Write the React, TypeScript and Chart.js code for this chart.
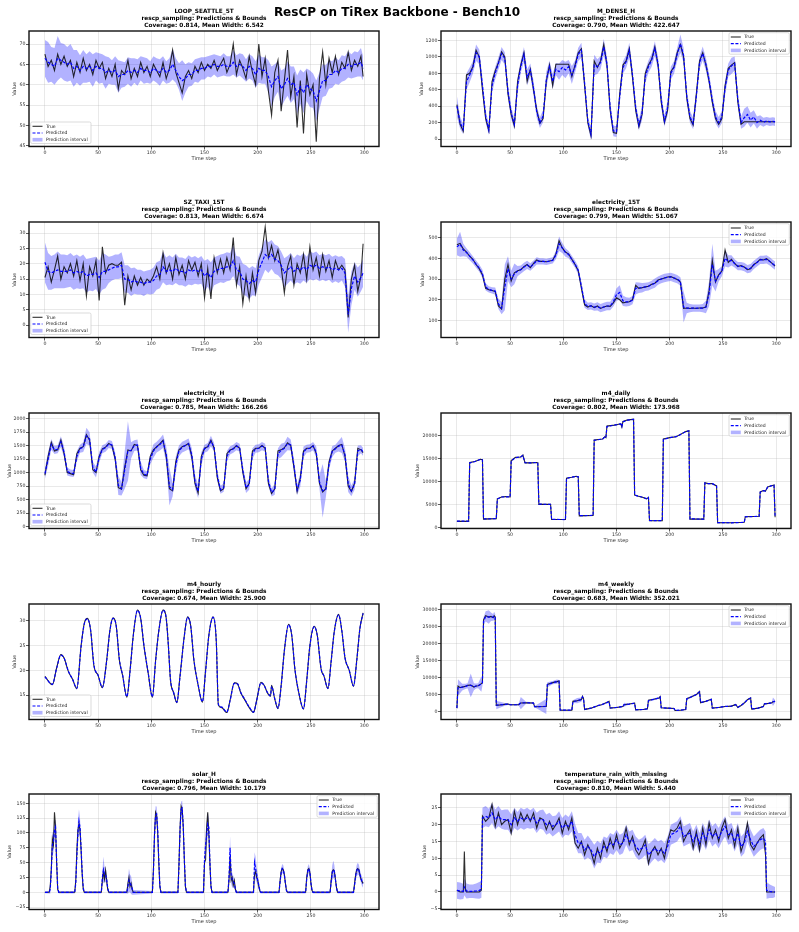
import { useEffect, useRef } from "react";
import { Chart, registerables } from "chart.js";

Chart.register(...registerables);

const FONT = "'DejaVu Sans', 'Liberation Sans', sans-serif";
const SUPTITLE = "ResCP on TiRex Backbone - Bench10";
const SUBTITLE = "rescp_sampling: Predictions & Bounds";
const X_TICKS = [0, 50, 100, 150, 200, 250, 300];
const X_MIN = -14.95;
const X_MAX = 313.95;

// Every third time step, plus the final one.
const STEP3 = Array.from({ length: 100 }, (_, i) => i * 3).concat([299]);

// ---------------- LOOP_SEATTLE_5T ----------------
const LOOP_TRUE = [
  67.5, 64.5, 66, 63.5, 67.5, 65, 67, 64.5, 66, 62,
  65.5, 63, 66.5, 63.5, 65, 62.5, 66, 64, 65.5, 61.5,
  64, 62, 65, 59, 63.5, 62.5, 66, 61.5, 64, 62,
  65.5, 63, 64.5, 62, 65, 63.5, 62, 65.5, 61.5, 64,
  68.5, 63, 60.5, 58, 62, 63.5, 61.5, 64.5, 63, 65.5,
  63.5, 65, 64, 66, 63.5, 65, 66.5, 63, 65, 70,
  62.5, 66, 64, 61.5, 67, 63, 60, 70, 62, 66.5,
  58.5, 52.5, 63, 66, 53.5, 61, 68.5, 57, 62, 49.5,
  61, 48, 62.5, 57.5, 60, 46, 61.5, 68, 60, 66.5,
  63, 67, 62.5, 65.5, 64, 68, 63.5, 66, 64.5, 67,
  62,
];
const LOOP_PRED = [
  66.5, 65.5, 65, 64.5, 66.5, 66, 65.5, 65, 65.5, 64,
  64.5, 63.5, 64.5, 64, 64.5, 63.5, 64.5, 64, 64, 63,
  63.5, 63, 63.5, 62, 62.5, 62.5, 63.5, 63, 63.5, 63,
  64, 63.5, 63.5, 63, 64, 63.5, 63, 64, 63, 63.5,
  65, 63.5, 62, 61, 61.5, 62.5, 62.5, 63.5, 63.5, 64,
  64, 64.5, 64.5, 65, 64.5, 64.5, 65, 64.5, 64.5, 65.5,
  64.5, 65, 64.5, 63.5, 64.5, 64, 62.5, 64, 63.5, 63.5,
  62, 59.5, 61, 62, 59, 60, 61.5, 60, 60.5, 57.5,
  59.5, 58, 60, 59, 58.5, 56, 58.5, 61, 61, 62.5,
  62.5, 63.5, 63, 64, 64, 65, 64.5, 65, 65, 65.5,
  64,
];
const LOOP_WIDTH = [
  9, 10, 8.5, 9, 11, 8.5, 9, 8.5, 9, 9,
  8, 7.5, 8, 7, 7.5, 8, 7, 7.5, 7, 8,
  6.5, 6, 7, 8, 6.5, 6, 6.5, 7, 6, 6.5,
  6, 6.5, 6, 5.5, 6, 6, 6.5, 6, 5.5, 6,
  7.5, 6, 6.5, 10, 7, 6, 5.5, 5.5, 6, 5.5,
  5.5, 5, 5.5, 5, 5.5, 5, 5.5, 5, 5, 6,
  5.5, 5.5, 6, 5.5, 6, 6, 6.5, 7, 6.5, 6.5,
  8, 10, 8, 7.5, 9, 8, 8.5, 9, 8, 9.5,
  8.5, 10, 8, 9, 8.5, 10, 9, 8, 7.5, 7,
  6.5, 6.5, 6, 6.5, 6, 6.5, 6, 6.5, 6, 7,
  6,
];

// ---------------- M_DENSE_H ----------------
const MDENSE_TRUE = [
  420, 180, 95, 780, 800, 880, 1080, 1000, 600, 250,
  100, 700, 830, 930, 1060, 1000, 550, 300, 160, 700,
  900, 1050, 700, 850, 600, 350, 190, 250, 700, 900,
  650, 910, 910, 910, 910, 910, 760, 900, 1050, 1100,
  650, 200, 40, 950, 870, 950, 1150, 900, 350, 80,
  70, 550, 900, 950, 1100, 750, 350, 150, 300, 800,
  900, 970, 1120, 900, 450, 200, 350, 820, 880, 1050,
  1150, 1000, 500, 250, 170, 550, 950, 1050, 900, 700,
  450, 250, 180, 250, 650, 860, 900, 930, 450, 180,
  210, 210, 210, 210, 210, 210, 210, 210, 210, 210,
  210,
];
const MDENSE_PRED = [
  400, 200, 120, 700, 780, 870, 1050, 1000, 650, 280,
  110, 650, 800, 920, 1040, 980, 580, 320, 180, 650,
  880, 1030, 750, 840, 620, 330, 200, 280, 720, 880,
  700, 850, 820, 870, 840, 880, 780, 880, 1030, 1080,
  680, 220, 60, 900, 880, 930, 1120, 920, 380, 100,
  90, 520, 870, 940, 1080, 780, 380, 170, 320, 760,
  880, 960, 1100, 920, 480, 220, 380, 800, 870, 1030,
  1160, 1020, 520, 270, 190, 520, 930, 1040, 910, 720,
  470, 270, 200, 270, 620, 840, 890, 920, 480, 200,
  260, 300, 230, 270, 200, 230, 205, 220, 210, 215,
  210,
];
const MDENSE_WIDTH = [
  250, 150, 120, 200, 180, 150, 200, 180, 200, 150,
  120, 180, 150, 150, 160, 150, 180, 150, 130, 200,
  150, 180, 200, 160, 180, 150, 130, 150, 200, 150,
  180, 150, 200, 180, 200, 160, 220, 150, 160, 180,
  180, 120, 150, 250, 180, 160, 200, 160, 180, 130,
  130, 180, 150, 160, 180, 160, 150, 130, 180, 160,
  150, 160, 180, 160, 180, 140, 180, 160, 150, 160,
  220, 180, 180, 150, 140, 180, 160, 170, 160, 150,
  160, 150, 140, 150, 180, 160, 200, 170, 180, 150,
  220, 200, 180, 160, 150, 120, 110, 100, 100, 100,
  100,
];

// ---------------- SZ_TAXI_15T ----------------
const TAXI_TRUE = [
  15.5, 19, 14, 18, 22.5, 15, 19, 17, 20, 16,
  21, 14.5, 20, 9.5, 19, 16, 21, 8, 25.5, 17,
  19.5, 20, 19.5, 19.5, 20.5, 6.5, 16, 11.5, 16, 13,
  15.5, 13, 15, 14, 16, 19, 15, 23.5, 17, 20,
  15, 22, 16.5, 19.5, 15, 21, 18, 20.5, 16, 20,
  9, 18.5, 8.5, 22, 17, 21.5, 17, 22, 18, 28.5,
  13, 19, 7, 16, 8.5, 17, 10.5, 21, 24, 32,
  22, 26, 21, 24.5, 19, 10.5, 19, 22.5, 13, 20,
  17, 23, 15, 25.5, 18, 22, 16, 23, 17.5, 21,
  15.5, 21, 18, 19.5, 18, 2.5, 15, 19.5, 11, 16,
  26.5,
];
const TAXI_PRED = [
  20.5, 17.5, 17, 17.5, 18, 17.5, 17.5, 17.5, 18, 17,
  17.5, 17, 17.5, 16, 16.5, 16.5, 17, 15.5, 17.5, 17.5,
  18, 18.5, 19, 19, 19.5, 15, 15, 14, 14.5, 14,
  14, 13.5, 14, 14, 14.5, 16, 16.5, 19, 17.5, 18,
  17.5, 18.5, 17.5, 17.5, 17, 18, 17.5, 18, 17.5, 18,
  16, 17, 15.5, 17.5, 18, 18.5, 18.5, 19, 19, 21,
  18, 17.5, 15, 14.5, 13.5, 14.5, 14, 18, 20.5, 23,
  22, 23, 21.5, 21, 19.5, 17, 18, 19, 17.5, 18.5,
  18, 19, 18, 19.5, 19, 19.5, 18.5, 19, 18.5, 19,
  18, 18.5, 18, 18.5, 17, 3.5, 12, 16, 14, 15.5,
  17,
];
const TAXI_WIDTH = [
  13, 12, 11, 11, 12, 11, 11, 10.5, 11, 11,
  11, 10.5, 11, 11, 10.5, 11, 10.5, 11, 12, 11,
  8.5, 8, 8, 8, 8.5, 9, 9, 9, 8.5, 8,
  8, 8, 7.5, 8, 8.5, 9, 9, 10, 9, 9.5,
  9, 9.5, 9, 9, 9, 9.5, 9, 9, 8.5, 9,
  10, 9, 10, 9, 9, 9, 9.5, 9.5, 9, 10,
  9, 9.5, 10, 10, 10, 9.5, 9, 9.5, 10, 10,
  10, 9.5, 9.5, 9.5, 9, 9.5, 9, 9, 8.5, 9,
  9, 9, 8.5, 9, 9, 9, 8.5, 8.5, 8.5, 8.5,
  8.5, 8.5, 8.5, 8, 9, 12, 11, 9, 9.5, 9,
  9,
];

// ---------------- electricity_15T ----------------
const ELEC15_TRUE = [
  465, 472, 445, 430, 410, 395, 370, 350, 320, 255,
  248, 245, 240, 170, 155, 300, 370, 290, 330, 340,
  345, 360, 370, 355, 375, 392, 385, 385, 383, 387,
  390, 420, 485, 450, 430, 420, 395, 370, 340, 255,
  175, 165, 172, 162, 170, 158, 165, 170, 168, 185,
  210, 200, 185, 188, 190, 200, 270, 255, 258, 262,
  265, 275, 280, 295, 300, 305, 310, 312, 305, 298,
  285, 158, 160, 158, 160, 158, 160, 160, 165, 245,
  390, 285, 320, 340, 440, 380, 395, 375, 360, 365,
  358, 345, 350, 370, 380, 395, 392, 398, 385, 372,
  362,
];
const ELEC15_PRED = [
  455, 468, 440, 428, 410, 392, 372, 352, 325, 262,
  250, 245, 242, 180, 160, 260, 350, 300, 325, 338,
  345, 358, 368, 358, 372, 388, 385, 385, 383, 386,
  390, 415, 470, 450, 428, 418, 395, 372, 342, 265,
  182, 168, 170, 165, 168, 160, 165, 170, 170, 190,
  225, 235, 195, 190, 190, 198, 255, 258, 258, 262,
  265, 272, 280, 292, 300, 305, 308, 310, 305, 300,
  288, 165, 160, 160, 160, 160, 160, 160, 165, 230,
  370, 290, 318, 338, 400, 385, 390, 375, 362, 362,
  358, 348, 352, 368, 380, 392, 392, 395, 385, 372,
  365,
];
const ELEC15_WIDTH = [
  80, 120, 60, 40, 40, 35, 35, 35, 40, 35,
  30, 30, 35, 50, 60, 220, 120, 80, 100, 50,
  40, 40, 40, 35, 35, 35, 30, 30, 30, 30,
  30, 40, 70, 50, 40, 35, 35, 35, 40, 40,
  40, 35, 35, 35, 40, 40, 40, 40, 40, 45,
  60, 70, 50, 45, 40, 40, 60, 50, 45, 40,
  40, 40, 45, 40, 40, 40, 40, 40, 40, 40,
  40, 150, 50, 40, 35, 35, 35, 40, 60, 120,
  200, 100, 60, 50, 80, 60, 50, 40, 40, 40,
  40, 40, 40, 40, 40, 40, 40, 40, 40, 40,
  40,
];

// ---------------- electricity_H ----------------
const ELECH_TRUE = [
  950, 1300, 1560, 1400, 1420, 1600, 1350, 1000, 980, 960,
  1350, 1450, 1480, 1700, 1600, 1050, 1000, 1300, 1440, 1470,
  1540, 1500, 1250, 720, 690, 1100, 1420, 1400, 1520, 1500,
  1050, 950, 940, 1300, 1420, 1480, 1530, 1600, 1300, 700,
  660, 1200, 1420, 1480, 1500, 1540, 1300, 800, 620, 1300,
  1450, 1480, 1600, 1450, 900, 660, 700, 1350, 1420, 1440,
  1500, 1450, 1000, 700, 800, 1400, 1450, 1450, 1500, 1450,
  800, 610, 700, 1400, 1420, 1460, 1550, 1500, 1100, 650,
  900, 1400, 1450, 1450, 1500, 1350, 800, 640, 700, 1200,
  1400, 1450, 1500, 1520, 1300, 750, 650, 800, 1450, 1420,
  1370,
];
const ELECH_PRED = [
  980, 1250, 1520, 1420, 1430, 1570, 1380, 1020, 990, 980,
  1300, 1440, 1470, 1680, 1620, 1100, 1010, 1280, 1430, 1460,
  1530, 1510, 1280, 760, 700, 1050, 1400, 1410, 1500, 1510,
  1080, 970, 950, 1250, 1400, 1470, 1520, 1580, 1330, 740,
  680, 1150, 1400, 1470, 1500, 1530, 1330, 840, 650, 1250,
  1440, 1470, 1580, 1470, 940, 680, 720, 1300, 1410, 1440,
  1490, 1460, 1040, 720, 780, 1350, 1440, 1450, 1490, 1460,
  840, 630, 690, 1350, 1410, 1450, 1540, 1510, 1130, 680,
  860, 1380, 1440, 1450, 1490, 1380, 830, 660, 690, 1150,
  1390, 1440, 1490, 1510, 1330, 790, 660, 780, 1400, 1430,
  1380,
];
const ELECH_WIDTH = [
  200, 250, 200, 150, 150, 200, 200, 150, 130, 130,
  200, 150, 180, 300, 250, 200, 200, 200, 150, 150,
  150, 150, 200, 350, 250, 700, 1100, 300, 200, 200,
  250, 150, 150, 200, 250, 200, 220, 250, 300, 700,
  250, 300, 200, 200, 200, 200, 250, 250, 250, 250,
  150, 150, 200, 150, 200, 150, 150, 200, 150, 150,
  150, 150, 200, 200, 200, 200, 150, 150, 150, 150,
  200, 150, 200, 200, 250, 200, 250, 200, 250, 200,
  250, 200, 150, 150, 150, 200, 250, 1000, 300, 200,
  200, 150, 200, 300, 250, 300, 200, 200, 200, 150,
  150,
];

// ---------------- m4_daily ----------------
const DAILY_STEPS = [
  0, 11, 12, 17, 22, 24, 25, 37, 38, 42,
  46, 50, 51, 55, 60, 62, 64, 70, 75, 76,
  77, 88, 89, 102, 103, 108, 112, 114, 115, 128,
  129, 137, 139, 140, 141, 148, 152, 154, 155, 156,
  160, 166, 167, 170, 175, 178, 180, 181, 193, 194,
  200, 206, 210, 215, 218, 219, 232, 233, 236, 240,
  244, 245, 258, 270, 271, 284, 285, 288, 290, 292,
  295, 298, 299,
];
const DAILY_TRUE = [
  1300, 1300, 14100, 14300, 14800, 14700, 1800, 1900, 6200, 6600,
  6700, 6600, 14500, 15200, 15300, 15700, 14000, 14000, 14100, 14000,
  5000, 5000, 1700, 1700, 10700, 10900, 11100, 11000, 2500, 2600,
  19000, 19200, 19700, 19500, 22000, 22200, 22400, 22500, 21800, 23000,
  23300, 23500, 7000, 6800, 6500, 6200, 6500, 1450, 1450, 19200,
  19500, 19700, 20200, 20800, 21000, 1800, 1800, 9700, 9500, 9500,
  9000, 1000, 1000, 1100, 2300, 2400, 7700, 8000, 7900, 8800,
  9000, 9200, 2200,
];
const DAILY_PRED = [
  1350, 1350, 14000, 14300, 14750, 14700, 1850, 1900, 6150, 6600,
  6650, 6600, 14400, 15150, 15300, 15600, 14050, 14000, 14100, 14000,
  5050, 5000, 1750, 1700, 10650, 10900, 11050, 11000, 2550, 2600,
  18900, 19200, 19650, 19500, 21900, 22200, 22400, 22450, 21900, 22900,
  23300, 23450, 7050, 6800, 6500, 6250, 6500, 1500, 1450, 19100,
  19500, 19700, 20150, 20800, 20950, 1850, 1800, 9650, 9500, 9500,
  9000, 1050, 1000, 1100, 2300, 2400, 7650, 8000, 7900, 8750,
  9000, 9150, 2250,
];
const DAILY_WIDTH = [
  150, 150, 300, 200, 200, 200, 300, 150, 250, 150,
  150, 150, 300, 200, 150, 200, 250, 150, 150, 150,
  250, 150, 200, 150, 300, 150, 150, 150, 250, 150,
  300, 150, 200, 150, 300, 150, 150, 150, 250, 250,
  150, 150, 300, 150, 150, 150, 150, 250, 150, 300,
  150, 150, 150, 150, 150, 300, 150, 250, 150, 150,
  150, 250, 150, 150, 200, 150, 250, 150, 150, 200,
  150, 150, 300,
];

// ---------------- m4_hourly ----------------
const HOURLY_STEPS = [
  0, 7, 11, 15, 18, 22, 26, 30, 34, 37,
  40, 43, 46, 50, 54, 58, 61, 64, 67, 70,
  73, 77, 80, 83, 87, 90, 93, 97, 101, 104,
  107, 111, 114, 116, 118, 121, 124, 127, 131, 134,
  137, 140, 144, 148, 151, 154, 158, 161, 163, 166,
  171, 174, 178, 181, 184, 188, 192, 196, 199, 203,
  206, 209, 212, 213, 216, 219, 222, 225, 229, 232,
  235, 239, 243, 246, 249, 253, 256, 259, 260, 262,
  266, 269, 272, 276, 279, 282, 286, 290, 293, 296,
  299,
];
const HOURLY_TRUE = [
  18.8, 17.1, 20.5, 23.2, 22.5, 19.8, 18.2, 16.3, 25, 29.5,
  30.5, 28, 21, 19, 16.5, 22, 28, 30.6, 29, 22,
  19, 14.6, 20, 27, 32.2, 30.5, 25, 19.5, 14.6, 22,
  28, 32.2, 30.5, 25, 18, 15.5, 13.5, 19, 27, 30.8,
  29, 22, 17, 13.6, 20, 27, 30.8, 26, 13, 12.5,
  11.5, 14, 17.5, 17.3, 15.5, 14, 12.5, 11.5, 14, 17.6,
  17, 15.5, 14.8, 17, 14.2, 12.3, 17, 24, 29.3, 27,
  20, 15, 12.2, 18, 25, 28.9, 27, 21, 19.8, 19,
  16.3, 22, 28, 31.3, 28, 22.5, 20, 16.8, 22, 28.5,
  31.6,
];
const HOURLY_PRED = [
  18.7, 17.2, 20.4, 23.1, 22.5, 19.9, 18.2, 16.4, 24.8, 29.4,
  30.4, 28.1, 21.2, 19, 16.6, 21.8, 27.9, 30.5, 29, 22.2,
  19.1, 14.7, 19.8, 26.9, 32.1, 30.5, 25.2, 19.6, 14.7, 21.8,
  27.9, 32.1, 30.5, 25.2, 18.2, 15.5, 13.6, 18.8, 26.9, 30.7,
  29, 22.2, 17.1, 13.7, 19.8, 26.9, 30.7, 26.2, 13.2, 12.6,
  11.6, 13.9, 17.4, 17.3, 15.6, 14.1, 12.6, 11.6, 13.9, 17.5,
  17, 15.6, 14.9, 16.8, 14.3, 12.4, 16.8, 23.9, 29.2, 27.1,
  20.2, 15.1, 12.3, 17.8, 24.9, 28.8, 27, 21.2, 19.9, 19,
  16.4, 21.8, 27.9, 31.2, 28.1, 22.6, 20, 16.9, 21.8, 28.4,
  31.5,
];
const HOURLY_WIDTH = [
  0.4, 0.4, 0.5, 0.4, 0.4, 0.4, 0.4, 0.5, 0.4, 0.4,
  0.4, 0.4, 0.5, 0.4, 0.4, 0.4, 0.4, 0.4, 0.4, 0.5,
  0.4, 0.4, 0.4, 0.4, 0.4, 0.4, 0.5, 0.4, 0.4, 0.4,
  0.4, 0.4, 0.4, 0.5, 0.4, 0.4, 0.4, 0.4, 0.4, 0.4,
  0.4, 0.5, 0.4, 0.4, 0.4, 0.4, 0.4, 0.5, 0.4, 0.4,
  0.4, 0.4, 0.4, 0.4, 0.4, 0.4, 0.4, 0.4, 0.4, 0.4,
  0.4, 0.4, 0.5, 0.5, 0.4, 0.4, 0.4, 0.4, 0.4, 0.4,
  0.4, 0.4, 0.4, 0.4, 0.4, 0.4, 0.4, 0.4, 0.5, 0.4,
  0.4, 0.4, 0.4, 0.4, 0.4, 0.4, 0.4, 0.4, 0.4, 0.4,
  0.4,
];

// ---------------- m4_weekly ----------------
const WEEKLY_STEPS = [
  0, 1, 3, 5, 8, 10, 13, 16, 18, 20,
  23, 24, 25, 27, 30, 32, 34, 35, 36, 37,
  45, 48, 50, 55, 58, 60, 65, 72, 73, 84,
  85, 90, 94, 96, 97, 108, 109, 113, 117, 118,
  119, 120, 126, 133, 136, 143, 144, 150, 156, 157,
  162, 167, 168, 175, 179, 180, 185, 190, 191, 192,
  198, 204, 205, 210, 215, 216, 220, 225, 228, 229,
  234, 239, 240, 246, 252, 253, 258, 262, 264, 267,
  270, 273, 276, 277, 283, 288, 289, 293, 296, 297,
  299,
];
const WEEKLY_TRUE = [
  1000, 7500, 7000, 7200, 7400, 7700, 7800, 7200, 7500, 7600,
  8200, 8500, 27000, 28200, 27800, 28000, 27600, 28200, 27800, 1800,
  2100, 2200, 2000, 2000, 2000, 2500, 2600, 2500, 1400, 1500,
  8000, 8500, 8800, 9000, 400, 400, 3000, 3200, 3500, 4500,
  3800, 600, 1000, 1800, 2000, 3000, 1000, 1200, 1500, 2000,
  2200, 2500, 500, 600, 800, 3300, 3600, 4000, 4400, 1100,
  1000, 900, 300, 400, 600, 3800, 4300, 5000, 5900, 2600,
  3000, 3600, 1000, 1200, 1500, 1500, 1600, 2100, 1200, 1800,
  2500, 3500, 4000, 700, 1000, 1500, 2300, 2400, 2600, 2900,
  3000,
];
const WEEKLY_PRED = [
  1000, 7000, 7100, 7200, 7400, 7600, 7700, 7300, 7500, 7600,
  8100, 8400, 26500, 28000, 27800, 27900, 27700, 28100, 27700, 1900,
  2100, 2200, 2000, 2000, 2050, 2500, 2600, 2500, 1450, 1500,
  7900, 8500, 8800, 8900, 450, 400, 2900, 3200, 3500, 4300,
  3800, 650, 1000, 1800, 2000, 2900, 1050, 1200, 1500, 2000,
  2200, 2450, 550, 600, 800, 3200, 3600, 4000, 4300, 1150,
  1000, 900, 350, 400, 600, 3700, 4300, 5000, 5800, 2650,
  3000, 3600, 1050, 1200, 1500, 1500, 1600, 2000, 1250, 1800,
  2500, 3500, 3950, 750, 1000, 1500, 2250, 2400, 2600, 2900,
  3000,
];
const WEEKLY_WIDTH = [
  300, 5000, 3500, 2000, 1500, 1500, 7000, 2000, 1500, 1500,
  4500, 1500, 2500, 3000, 4000, 2500, 2000, 2500, 2000, 2500,
  800, 500, 500, 500, 500, 3600, 600, 500, 400, 4400,
  1500, 1000, 1200, 800, 400, 300, 800, 1500, 1200, 1000,
  600, 400, 300, 300, 300, 600, 300, 300, 300, 1200,
  300, 400, 300, 300, 300, 600, 600, 400, 800, 300,
  300, 300, 300, 300, 300, 600, 600, 400, 800, 400,
  400, 400, 300, 300, 300, 300, 300, 500, 300, 300,
  300, 400, 500, 300, 300, 300, 600, 400, 500, 2500,
  800,
];

// ---------------- solar_H ----------------
const SOLAR_STEPS = [
  0, 4, 5, 6, 7, 8, 9, 10, 11, 12, 13,
  28, 29, 30, 31, 32, 33, 34, 35, 36, 37,
  53, 54, 55, 56, 57, 58, 59, 60,
  77, 78, 79, 80, 81, 82, 83,
  101, 102, 103, 104, 105, 106, 107, 108, 109,
  125, 126, 127, 128, 129, 130, 131, 132, 133,
  149, 150, 151, 152, 153, 154, 155, 156, 157,
  172, 173, 174, 175, 176, 177, 178, 179, 180,
  196, 197, 198, 199, 200, 201, 202, 203,
  220, 221, 222, 223, 224, 225, 226, 227, 228,
  245, 246, 247, 248, 249, 250, 251, 252,
  268, 269, 270, 271, 272, 273, 274, 275,
  290, 291, 292, 293, 294, 295, 296, 297, 298, 299,
];
const SOLAR_TRUE = [
  0, 0, 10, 40, 90, 80, 135, 110, 50, 5, 0,
  0, 20, 70, 105, 115, 105, 70, 30, 5, 0,
  0, 20, 35, 22, 37, 20, 5, 0,
  0, 15, 25, 10, 15, 5, 0,
  0, 40, 100, 135, 130, 100, 50, 10, 0,
  0, 50, 110, 145, 140, 110, 55, 10, 0,
  0, 50, 55, 110, 135, 100, 50, 10, 0,
  0, 20, 60, 20, 25, 12, 20, 5, 0,
  0, 30, 35, 25, 20, 10, 2, 0,
  0, 20, 35, 40, 38, 30, 15, 3, 0,
  0, 25, 38, 40, 33, 15, 3, 0,
  0, 20, 35, 38, 35, 22, 8, 0,
  0, 15, 30, 38, 40, 38, 30, 22, 18, 15,
];
const SOLAR_PRED = [
  0, 0, 5, 35, 80, 85, 105, 110, 55, 8, 0,
  0, 15, 60, 100, 120, 110, 75, 35, 8, 0,
  0, 25, 38, 30, 30, 22, 8, 0,
  0, 10, 20, 15, 12, 6, 0,
  0, 35, 95, 130, 132, 105, 55, 12, 0,
  0, 45, 105, 140, 142, 112, 58, 12, 0,
  0, 55, 80, 95, 115, 110, 55, 12, 0,
  0, 25, 75, 30, 20, 18, 15, 5, 0,
  0, 50, 40, 30, 20, 12, 3, 0,
  0, 18, 33, 40, 38, 30, 15, 3, 0,
  0, 22, 36, 40, 34, 16, 3, 0,
  0, 18, 33, 38, 36, 22, 8, 0,
  0, 12, 28, 36, 40, 38, 30, 24, 18, 15,
];
const SOLAR_WIDTH = [
  3, 4, 15, 30, 40, 35, 30, 25, 20, 8, 4,
  4, 15, 30, 40, 40, 30, 25, 20, 10, 4,
  4, 20, 45, 25, 25, 20, 12, 4,
  4, 25, 40, 30, 30, 20, 8,
  4, 20, 30, 30, 25, 25, 20, 10, 4,
  4, 20, 30, 25, 25, 25, 20, 10, 4,
  4, 25, 40, 45, 40, 30, 25, 10, 4,
  4, 20, 40, 30, 25, 20, 15, 10, 4,
  4, 35, 40, 25, 20, 15, 8, 4,
  4, 10, 15, 15, 15, 12, 10, 6, 4,
  4, 10, 15, 15, 12, 10, 6, 4,
  4, 15, 25, 30, 20, 12, 8, 4,
  4, 10, 15, 20, 20, 18, 15, 15, 15, 15,
];

// ---------------- temperature_rain_with_missing ----------------
const TEMP_STEPS = [0, 3, 6, 7, 8, 9, 12, 15, 18, 21, 23]
  .concat(Array.from({ length: 89 }, (_, i) => 24 + i * 3))
  .concat([290, 291, 294, 297, 299]);
const TEMP_TRUE = [
  0.5, 0, 0, 12, 0.5, 0, 0, 0, 0, 0, 0.5,
  22.5, 21, 22, 26, 19.5, 23.5, 20, 21, 21.5, 17.5,
  24, 20, 23.5, 21, 23, 21, 23.5, 19, 22, 21.5,
  18.5, 21, 18.5, 20, 22, 17.5, 21, 18.5, 22, 14.5,
  13, 15, 11, 14, 12, 8.5, 13, 10, 15, 12,
  16, 13, 17, 13, 15, 19, 14, 16.5, 12.5, 11,
  13, 15.5, 8.5, 12, 13.5, 11, 13, 10, 15, 18.5,
  18, 19, 21, 15, 17, 18.5, 13, 18, 12.5, 19,
  14, 20.5, 16, 18.5, 15, 19, 21.5, 16, 18.5, 13.5,
  19, 12, 15, 20.5, 14, 12.5, 14.5, 16, 17,
  11, 0, 0, 0, 0,
];
const TEMP_PRED = [
  0.5, 0.3, 0.2, 1.5, 1, 0.3, 0.2, 0.2, 0.3, 0.5, 0.8,
  22, 22.5, 22, 23.5, 21.5, 22.5, 21.5, 21.5, 21.5, 20,
  22, 21, 22, 21.5, 22, 21.5, 22, 20.5, 21.5, 21.5,
  20, 20.5, 19.5, 20, 21, 19, 20, 19.5, 21, 17,
  14.5, 14.5, 12.5, 13.5, 12.5, 10.5, 12, 11.5, 13.5, 13,
  14.5, 14, 15.5, 14, 14.5, 17, 15, 15.5, 13.5, 12.5,
  13, 14, 11, 12, 13, 12, 12.5, 11.5, 13.5, 17,
  17.5, 18, 19.5, 16.5, 17, 17.5, 15, 17, 14.5, 17.5,
  15.5, 18.5, 16.5, 17.5, 16, 18, 19.5, 17, 17.5, 15,
  17.5, 13.5, 14.5, 18, 15.5, 13.5, 14.5, 15.5, 16,
  15, 0.5, 0.2, 0, 0,
];
const TEMP_WIDTH = [
  5, 5, 4.5, 5, 5, 4.5, 4, 4, 4.5, 5, 5,
  6, 6, 5.5, 6, 6, 6, 5.5, 6, 6, 6,
  6, 5.5, 6, 6, 6, 5.5, 6, 6, 5.5, 6,
  6, 6, 6, 5.5, 6, 6, 6, 5.5, 6, 6.5,
  6, 6, 6, 6.5, 6, 7, 6.5, 6, 6, 6,
  6, 6, 6, 6, 6, 6, 6, 6, 6, 6,
  6, 6, 6.5, 6, 6, 6, 6, 6, 6, 6,
  6, 6, 6, 6, 6, 6, 6, 6, 6, 6,
  6, 6, 6, 6, 6, 6, 6, 6, 6, 6,
  6, 6, 6, 6, 6, 6, 6, 6, 6,
  6, 5, 4, 3.5, 3,
];

type Corner = "lowerLeft" | "upperRight";

interface Panel {
  name: string;
  coverage: string;
  meanWidth: string;
  steps: number[];
  truth: number[];
  pred: number[];
  width: number[];
  yMin: number;
  yMax: number;
  yTicks: number[];
  legend: Corner;
  labelGap: number;
  smooth?: boolean;
}

const PANELS: Panel[] = [
  { name: "LOOP_SEATTLE_5T", coverage: "0.814", meanWidth: "6.542", steps: STEP3, truth: LOOP_TRUE, pred: LOOP_PRED, width: LOOP_WIDTH, yMin: 44.8, yMax: 73.2, yTicks: [45, 50, 55, 60, 65, 70], legend: "lowerLeft", labelGap: 14 },
  { name: "M_DENSE_H", coverage: "0.790", meanWidth: "422.647", steps: STEP3, truth: MDENSE_TRUE, pred: MDENSE_PRED, width: MDENSE_WIDTH, yMin: -90, yMax: 1314, yTicks: [0, 200, 400, 600, 800, 1000, 1200], legend: "upperRight", labelGap: 19.5 },
  { name: "SZ_TAXI_15T", coverage: "0.813", meanWidth: "6.674", steps: STEP3, truth: TAXI_TRUE, pred: TAXI_PRED, width: TAXI_WIDTH, yMin: -4.05, yMax: 33.6, yTicks: [0, 5, 10, 15, 20, 25, 30], legend: "lowerLeft", labelGap: 14 },
  { name: "electricity_15T", coverage: "0.799", meanWidth: "51.067", steps: STEP3, truth: ELEC15_TRUE, pred: ELEC15_PRED, width: ELEC15_WIDTH, yMin: 18, yMax: 575, yTicks: [100, 200, 300, 400, 500], legend: "upperRight", labelGap: 18 },
  { name: "electricity_H", coverage: "0.785", meanWidth: "166.266", steps: STEP3, truth: ELECH_TRUE, pred: ELECH_PRED, width: ELECH_WIDTH, yMin: -37, yMax: 2103, yTicks: [0, 250, 500, 750, 1000, 1250, 1500, 1750, 2000], legend: "lowerLeft", labelGap: 19 },
  { name: "m4_daily", coverage: "0.802", meanWidth: "173.968", steps: DAILY_STEPS, truth: DAILY_TRUE, pred: DAILY_PRED, width: DAILY_WIDTH, yMin: -240, yMax: 24840, yTicks: [0, 5000, 10000, 15000, 20000], legend: "upperRight", labelGap: 23 },
  { name: "m4_hourly", coverage: "0.674", meanWidth: "25.900", steps: HOURLY_STEPS, truth: HOURLY_TRUE, pred: HOURLY_PRED, width: HOURLY_WIDTH, yMin: 10.1, yMax: 33.4, yTicks: [15, 20, 25, 30], legend: "lowerLeft", labelGap: 14, smooth: true },
  { name: "m4_weekly", coverage: "0.683", meanWidth: "352.021", steps: WEEKLY_STEPS, truth: WEEKLY_TRUE, pred: WEEKLY_PRED, width: WEEKLY_WIDTH, yMin: -2340, yMax: 31640, yTicks: [0, 5000, 10000, 15000, 20000, 25000, 30000], legend: "upperRight", labelGap: 23 },
  { name: "solar_H", coverage: "0.796", meanWidth: "10.179", steps: SOLAR_STEPS, truth: SOLAR_TRUE, pred: SOLAR_PRED, width: SOLAR_WIDTH, yMin: -29, yMax: 165.7, yTicks: [-25, 0, 25, 50, 75, 100, 125, 150], legend: "upperRight", labelGap: 19 },
  { name: "temperature_rain_with_missing", coverage: "0.810", meanWidth: "5.440", steps: TEMP_STEPS, truth: TEMP_TRUE, pred: TEMP_PRED, width: TEMP_WIDTH, yMin: -5.2, yMax: 29.1, yTicks: [-5, 0, 5, 10, 15, 20, 25], legend: "upperRight", labelGap: 16.5 },
];

// Panel geometry (page pixels)
const AXES_W = 350;
const AXES_H = 115.5;
const Y_AXIS_W = 40;
const TITLE_H = 24;
const X_AXIS_H = 18.5;
const RIGHT_PAD = 16;
const COL_LEFT = [29, 441];
const ROW_TOP = [31, 222, 413, 604, 794];

const BAND_COLOR = "rgba(0, 0, 255, 0.3)";
const TRUE_COLOR = "rgba(0, 0, 0, 0.82)";
const PRED_COLOR = "#0000ff";
const TICK_COLOR = "#333333";
const TICK_LEN = 3;

const fmtTick = (v: number) => (v < 0 ? "\u2212" + Math.abs(v) : String(v));

// Axes frame plus an in-plot legend box.
const frameLegend = {
  id: "frameLegend",
  afterDraw(chart: any, _args: any, opts: any) {
    const { ctx, chartArea: a } = chart;
    ctx.save();
    ctx.strokeStyle = "#111111";
    ctx.lineWidth = 1.4;
    ctx.strokeRect(a.left, a.top, a.right - a.left, a.bottom - a.top);

    const w = 60.3;
    const h = 21.5;
    const x0 = opts.corner === "lowerLeft" ? a.left + 1.7 : a.right - 1.7 - w;
    const y0 = opts.corner === "lowerLeft" ? a.bottom - 3 - h : a.top + 1.7;
    ctx.beginPath();
    ctx.roundRect(x0, y0, w, h, 1.5);
    ctx.fillStyle = "rgba(255,255,255,0.85)";
    ctx.fill();
    ctx.strokeStyle = "#cccccc";
    ctx.lineWidth = 0.7;
    ctx.stroke();

    const rows = [y0 + 4.3, y0 + 11, y0 + 17.7];
    const hx0 = x0 + 1.8;
    const hx1 = x0 + 11.8;
    ctx.lineWidth = 1.1;
    ctx.strokeStyle = TRUE_COLOR;
    ctx.beginPath();
    ctx.moveTo(hx0, rows[0]);
    ctx.lineTo(hx1, rows[0]);
    ctx.stroke();
    ctx.strokeStyle = PRED_COLOR;
    ctx.lineWidth = 1.2;
    ctx.setLineDash([3, 1.6]);
    ctx.beginPath();
    ctx.moveTo(hx0, rows[1]);
    ctx.lineTo(hx1, rows[1]);
    ctx.stroke();
    ctx.setLineDash([]);
    ctx.fillStyle = BAND_COLOR;
    ctx.fillRect(hx0, rows[2] - 1.8, hx1 - hx0, 3.6);

    ctx.fillStyle = "#222222";
    ctx.font = `4.6px ${FONT}`;
    ctx.textBaseline = "middle";
    ctx.textAlign = "left";
    ["True", "Predicted", "Prediction interval"].forEach((t, i) => {
      ctx.fillText(t, x0 + 15.2, rows[i]);
    });
    ctx.restore();
  },
};

function PanelChart({ panel, index }: { panel: Panel; index: number }) {
  const ref = useRef<HTMLCanvasElement | null>(null);
  const col = index % 2;
  const row = Math.floor(index / 2);
  const left = COL_LEFT[col] - Y_AXIS_W;
  const top = ROW_TOP[row] - TITLE_H;
  const width = Y_AXIS_W + AXES_W + RIGHT_PAD;
  const height = TITLE_H + AXES_H + X_AXIS_H;

  useEffect(() => {
    if (!ref.current) return;
    const pts = (ys: number[]) => panel.steps.map((x, i) => ({ x, y: ys[i] }));
    const upper = panel.pred.map((p, i) => p + panel.width[i] / 2);
    const lower = panel.pred.map((p, i) => p - panel.width[i] / 2);
    const curve = panel.smooth ? { cubicInterpolationMode: "monotone" as const } : {};

    const chart = new Chart(ref.current, {
      type: "line",
      data: {
        datasets: [
          { label: "upper", data: pts(upper), borderColor: "rgba(0,0,0,0)", borderWidth: 0, backgroundColor: BAND_COLOR, fill: "+1", order: 3, ...curve },
          { label: "lower", data: pts(lower), borderColor: "rgba(0,0,0,0)", borderWidth: 0, fill: false, order: 3, ...curve },
          { label: "True", data: pts(panel.truth), borderColor: TRUE_COLOR, borderWidth: 1.1, fill: false, order: 2, ...curve },
          { label: "Predicted", data: pts(panel.pred), borderColor: PRED_COLOR, borderWidth: 1.2, borderDash: [3, 1.6], fill: false, order: 1, ...curve },
        ],
      },
      options: {
        animation: false,
        responsive: false,
        maintainAspectRatio: false,
        devicePixelRatio: 1,
        events: [],
        elements: { point: { radius: 0 }, line: { tension: 0 } },
        layout: { padding: { left: 0, right: RIGHT_PAD, top: 0, bottom: 0 } },
        plugins: {
          legend: { display: false },
          tooltip: { enabled: false },
          title: {
            display: true,
            fullSize: false,
            text: [panel.name, SUBTITLE, `Coverage: ${panel.coverage}, Mean Width: ${panel.meanWidth}`],
            color: "#000000",
            font: { family: FONT, size: 5.8, weight: "bold", lineHeight: "7px" },
            padding: { top: 1, bottom: 2 },
          },
          frameLegend: { corner: panel.legend },
        } as any,
        scales: {
          x: {
            type: "linear",
            min: X_MIN,
            max: X_MAX,
            afterBuildTicks: (s: any) => {
              s.ticks = X_TICKS.map((v) => ({ value: v }));
            },
            afterFit: (s: any) => {
              s.height = X_AXIS_H;
            },
            ticks: { font: { family: FONT, size: 4.7 }, color: TICK_COLOR, padding: 0, maxRotation: 0, autoSkip: false, callback: (v: any) => fmtTick(Number(v)) },
            grid: { color: "rgba(176,176,176,0.35)", lineWidth: 0.8, tickLength: TICK_LEN, tickColor: TICK_COLOR, tickWidth: 0.8 },
            border: { display: false },
            title: { display: true, text: "Time step", color: TICK_COLOR, font: { family: FONT, size: 5.1 }, padding: { top: 0, bottom: 3.4 } },
          },
          y: {
            type: "linear",
            min: panel.yMin,
            max: panel.yMax,
            afterBuildTicks: (s: any) => {
              s.ticks = panel.yTicks.map((v) => ({ value: v }));
            },
            afterFit: (s: any) => {
              s.width = Y_AXIS_W;
            },
            ticks: { font: { family: FONT, size: 4.7 }, color: TICK_COLOR, padding: 0.5, autoSkip: false, callback: (v: any) => fmtTick(Number(v)) },
            grid: { color: "rgba(176,176,176,0.35)", lineWidth: 0.8, tickLength: TICK_LEN, tickColor: TICK_COLOR, tickWidth: 0.8 },
            border: { display: false },
            title: { display: true, text: "Value", color: TICK_COLOR, font: { family: FONT, size: 5.1 }, padding: { top: Y_AXIS_W - panel.labelGap - 3.06, bottom: 0 } },
          },
        },
      },
      plugins: [frameLegend as any],
    });
    return () => chart.destroy();
  }, [panel]);

  return (
    <canvas
      ref={ref}
      width={width}
      height={height}
      style={{ position: "absolute", left, top, width, height }}
    />
  );
}

export default function App() {
  return (
    <div style={{ position: "absolute", left: 0, top: 0, width: 799, height: 932, background: "#ffffff", overflow: "hidden" }}>
      {PANELS.map((p, i) => (
        <PanelChart key={p.name} panel={p} index={i} />
      ))}
      <div
        style={{
          position: "absolute",
          left: 0,
          width: 794,
          top: 5.8,
          textAlign: "center",
          fontFamily: FONT,
          fontWeight: "bold",
          fontSize: 12,
          lineHeight: "12px",
          color: "#000",
          whiteSpace: "nowrap",
        }}
      >
        {SUPTITLE}
      </div>
    </div>
  );
}
